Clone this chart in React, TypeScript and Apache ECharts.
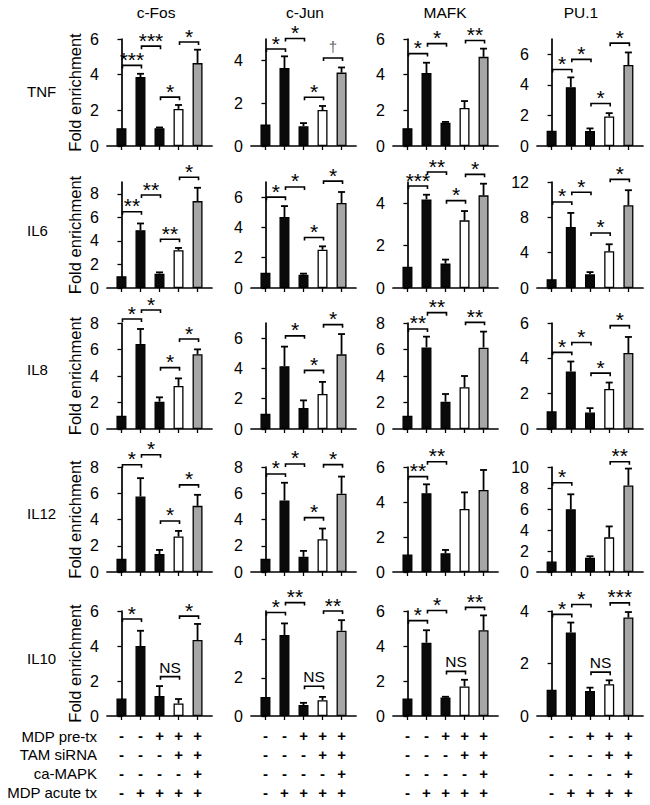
import React, { useEffect, useRef } from 'react';
import * as echarts from 'echarts';

const PROTEINS = ['c-Fos', 'c-Jun', 'MAFK', 'PU.1'];
const GENES = ['TNF', 'IL6', 'IL8', 'IL12', 'IL10'];
const BAR_COLORS = ['#0a0a0a', '#0a0a0a', '#0a0a0a', '#ffffff', '#a6a6a6'];

// y-axis maxima / tick steps, per gene row, per protein column
const Y_MAX = [[6, 5, 6, 7], [9, 7, 5, 12], [8, 7, 8, 6], [8, 8, 6, 10], [6, 5.5, 6, 4]];
const Y_STEP = [[2, 2, 2, 2], [2, 2, 2, 4], [2, 2, 2, 2], [2, 2, 2, 2], [2, 2, 2, 2]];

// fold enrichment means (5 conditions) per protein
const TNF_MEAN = [[1, 3.87, 1.0, 2.08, 4.65], [1, 3.64, 0.92, 1.68, 3.43], [1, 4.09, 1.31, 2.13, 5.0], [1, 3.85, 0.98, 1.93, 5.3]];
const TNF_SEM = [[0, 0.18, 0.04, 0.22, 0.75], [0, 0.55, 0.15, 0.19, 0.24], [0, 0.58, 0.04, 0.39, 0.46], [0, 0.64, 0.17, 0.22, 0.82]];
const IL6_MEAN = [[1, 4.91, 1.22, 3.21, 7.38], [1, 4.69, 0.88, 2.53, 5.61], [1, 4.18, 1.15, 3.19, 4.37], [1, 6.9, 1.55, 4.16, 9.37]];
const IL6_SEM = [[0, 0.57, 0.11, 0.19, 1.13], [0, 0.72, 0.07, 0.22, 0.73], [0, 0.22, 0.19, 0.44, 0.55], [0, 1.6, 0.25, 0.79, 1.7]];
const IL8_MEAN = [[1, 6.42, 2.06, 3.25, 5.64], [1, 4.15, 1.38, 2.31, 4.93], [1, 6.16, 2.06, 3.15, 6.14], [1, 3.26, 0.93, 2.26, 4.3]];
const IL8_SEM = [[0, 1.13, 0.33, 0.57, 0.37], [0, 1.29, 0.51, 0.8, 1.34], [0, 0.81, 0.58, 0.85, 1.21], [0, 0.56, 0.25, 0.37, 0.91]];
const IL12_MEAN = [[1, 5.75, 1.37, 2.7, 5.04], [1, 5.45, 1.16, 2.5, 5.96], [1, 4.5, 1.07, 3.6, 4.69], [1, 5.97, 1.36, 3.3, 8.24]];
const IL12_SEM = [[0, 1.4, 0.31, 0.43, 0.84], [0, 1.35, 0.45, 0.81, 1.31], [0, 0.51, 0.19, 0.95, 1.14], [0, 1.43, 0.14, 1.04, 1.61]];
const IL10_MEAN = [[1, 4.0, 1.14, 0.72, 4.34], [1, 4.24, 0.57, 0.83, 4.47], [1, 4.19, 1.05, 1.69, 4.9], [1, 3.18, 0.95, 1.21, 3.75]];
const IL10_SEM = [[0, 0.87, 0.57, 0.25, 0.92], [0, 0.61, 0.12, 0.17, 0.55], [0, 0.71, 0.05, 0.38, 0.85], [0, 0.38, 0.13, 0.15, 0.21]];

// significance brackets: [fromBar, toBar, height (fold enrichment), label]
const TNF_SIG = [
  [[0, 1, 4.52, '***'], [1, 2, 5.6, '***'], [2, 3, 2.74, '*'], [3, 4, 5.83, '*']],
  [[0, 1, 4.53, '*'], [1, 2, 5.02, '*'], [2, 3, 2.28, '*'], [3, 4, 4.11, '†']],
  [[0, 1, 5.18, '*'], [1, 2, 5.74, '*'], [3, 4, 5.92, '**']],
  [[0, 1, 5.0, '*'], [1, 2, 5.67, '*'], [2, 3, 2.78, '*'], [3, 4, 6.73, '*']],
];
const IL6_SIG = [
  [[0, 1, 6.47, '**'], [1, 2, 7.89, '**'], [2, 3, 4.14, '**'], [3, 4, 9.4, '*']],
  [[0, 1, 6.0, '*'], [1, 2, 6.67, '*'], [2, 3, 3.33, '*'], [3, 4, 7.06, '*']],
  [[0, 1, 4.81, '***'], [1, 2, 5.47, '**'], [2, 3, 4.12, '*'], [3, 4, 5.36, '*']],
  [[0, 1, 9.74, '*'], [1, 2, 10.84, '*'], [2, 3, 6.23, '*'], [3, 4, 12.3, '*']],
];
const IL8_SIG = [
  [[0, 1, 8.3, '*'], [1, 2, 8.98, '*'], [2, 3, 4.63, '*'], [3, 4, 6.79, '*']],
  [[1, 2, 6.15, '*'], [2, 3, 3.87, '*'], [3, 4, 6.89, '*']],
  [[0, 1, 7.55, '**'], [1, 2, 8.78, '**'], [3, 4, 8.05, '**']],
  [[0, 1, 4.34, '*'], [1, 2, 4.9, '*'], [2, 3, 3.16, '*'], [3, 4, 5.85, '*']],
];
const IL12_SIG = [
  [[0, 1, 8.17, '*'], [1, 2, 8.93, '*'], [2, 3, 3.89, '*'], [3, 4, 6.64, '*']],
  [[0, 1, 7.47, '*'], [1, 2, 8.23, '*'], [2, 3, 4.14, '*'], [3, 4, 8.18, '*']],
  [[0, 1, 5.45, '**'], [1, 2, 6.3, '**']],
  [[0, 1, 8.5, '*'], [3, 4, 10.5, '**']],
];
const IL10_SIG = [
  [[0, 1, 5.54, '*'], [2, 3, 2.25, 'NS'], [3, 4, 5.71, '*']],
  [[0, 1, 5.42, '*'], [1, 2, 5.94, '**'], [2, 3, 1.56, 'NS'], [3, 4, 5.5, '**']],
  [[0, 1, 5.45, '*'], [1, 2, 6.03, '*'], [2, 3, 2.55, 'NS'], [3, 4, 6.21, '**']],
  [[0, 1, 3.87, '*'], [1, 2, 4.25, '*'], [2, 3, 1.67, 'NS'], [3, 4, 4.31, '***']],
];

// treatment table
const COND_LABELS = ['MDP pre-tx', 'TAM siRNA', 'ca-MAPK', 'MDP acute tx'];
const COND_MDP_PRE = ['-', '-', '+', '+', '+'];
const COND_TAM = ['-', '-', '-', '+', '+'];
const COND_CAMAPK = ['-', '-', '-', '-', '+'];
const COND_MDP_ACUTE = ['-', '+', '+', '+', '+'];

const MEANS = [TNF_MEAN, IL6_MEAN, IL8_MEAN, IL12_MEAN, IL10_MEAN];
const SEMS = [TNF_SEM, IL6_SEM, IL8_SEM, IL12_SEM, IL10_SEM];
const SIGS = [TNF_SIG, IL6_SIG, IL8_SIG, IL12_SIG, IL10_SIG];
const CONDS = [COND_MDP_PRE, COND_TAM, COND_CAMAPK, COND_MDP_ACUTE];

const FONT = '"Liberation Sans", Arial, Helvetica, sans-serif';
const COL_LEFT = [107, 251, 393, 537];
const COL_W = [105, 105, 105, 106];
const ROW_TOP = [39, 182, 323, 467, 611];
const ROW_H = [107, 106, 106, 105, 105];
const TITLE_X = [156, 305, 445, 581];
const ROW_LABEL_Y = [91, 230, 369, 513, 658];
const COND_Y = [736, 754.5, 773.5, 792.5];

function buildOption() {
  const grid: any[] = [];
  const xAxis: any[] = [];
  const yAxis: any[] = [];
  const series: any[] = [];
  const lineStyle = { color: '#000', width: 1.7 };
  const positions = [0, 1, 2, 3, 4];

  for (let r = 0; r < GENES.length; r++) {
    for (let c = 0; c < PROTEINS.length; c++) {
      const k = r * 4 + c;
      const max = Y_MAX[r][c];
      const step = Y_STEP[r][c];
      const ticks: number[] = [];
      for (let v = 0; v <= max + 1e-9; v += step) ticks.push(v);
      grid.push({ left: COL_LEFT[c], top: ROW_TOP[r], width: COL_W[c], height: ROW_H[r], containLabel: false });
      xAxis.push({
        gridIndex: k, type: 'value', min: -0.76, max: 4.76,
        axisLine: { show: true, onZero: false, lineStyle },
        axisTick: { show: true, length: 4, customValues: positions, lineStyle: { color: '#000', width: 1.3 } },
        axisLabel: {
          show: r === GENES.length - 1, customValues: positions,
          formatter: (v: number) => CONDS.map((a) => a[Math.round(v)]).join('\n'),
          lineHeight: 19, margin: 10, fontSize: 15, fontWeight: 'bold', color: '#000', fontFamily: FONT,
        },
        splitLine: { show: false },
      });
      yAxis.push({
        gridIndex: k, type: 'value', min: 0, max,
        axisLine: { show: true, lineStyle },
        axisTick: { show: true, length: 4, customValues: ticks, lineStyle: { color: '#000', width: 1.3 } },
        axisLabel: { customValues: ticks, margin: 8, fontSize: 16, color: '#000', fontFamily: FONT },
        splitLine: { show: false },
        name: c === 0 ? 'Fold enrichment' : '',
        nameLocation: 'middle', nameGap: 24,
        nameTextStyle: { fontSize: 16.5, color: '#000', fontFamily: FONT },
      });

      const mean = MEANS[r][c];
      const sem = SEMS[r][c];
      const sig = SIGS[r][c];
      series.push({
        type: 'bar', xAxisIndex: k, yAxisIndex: k, barWidth: 10,
        data: mean.map((v, i) => ({
          value: [i, v],
          itemStyle: { color: BAR_COLORS[i], borderColor: '#000', borderWidth: 1.3 },
        })),
        z: 2,
      });
      series.push({
        type: 'custom', xAxisIndex: k, yAxisIndex: k, z: 3, clip: false,
        encode: { x: 0, y: 1 },
        data: mean.map((v, i) => [i, v, sem[i]]),
        renderItem: (params: any, api: any) => {
          const x = api.value(0), m = api.value(1), e = api.value(2);
          if (!e) return { type: 'group', children: [] };
          const p0 = api.coord([x, m]);
          const p1 = api.coord([x, m + e]);
          const st = { stroke: '#000', lineWidth: 1.8 };
          return {
            type: 'group', children: [
              { type: 'line', shape: { x1: p0[0], y1: p0[1], x2: p1[0], y2: p1[1] }, style: st },
              { type: 'line', shape: { x1: p1[0] - 3.5, y1: p1[1], x2: p1[0] + 3.5, y2: p1[1] }, style: st },
            ],
          };
        },
      });
      series.push({
        type: 'custom', xAxisIndex: k, yAxisIndex: k, z: 4, clip: false,
        encode: { x: [0, 1], y: 2 },
        data: sig.map((s) => [s[0], s[1], s[2]]),
        renderItem: (params: any, api: any) => {
          const label = sig[params.dataIndex][3] as string;
          const lv = api.value(2);
          const a = api.coord([api.value(0), lv]);
          const b = api.coord([api.value(1), lv]);
          const x1 = a[0] + 1, x2 = b[0] + 1, y = a[1];
          let fontSize = 21, dy = -6, fill = '#000';
          if (label === 'NS') { fontSize = 15.5; dy = -9.5; }
          if (label === '†') { fontSize = 15; dy = -12; fill = '#666'; }
          return {
            type: 'group', children: [
              { type: 'polyline', shape: { points: [[x1, y + 3], [x1, y], [x2, y], [x2, y + 3]] }, style: { stroke: '#000', lineWidth: 1.6, fill: 'none' } },
              { type: 'text', style: { text: label, x: (x1 + x2) / 2, y: y + dy, align: 'center', verticalAlign: 'middle', fontSize, fontFamily: FONT, fill } },
            ],
          };
        },
      });
    }
  }

  const graphic: any[] = [];
  PROTEINS.forEach((p, c) => graphic.push({
    type: 'text', x: TITLE_X[c], y: 12.5,
    style: { text: p, fontSize: 15.5, fontFamily: FONT, fill: '#000', align: 'center', verticalAlign: 'middle' },
  }));
  GENES.forEach((g, r) => graphic.push({
    type: 'text', x: 27, y: ROW_LABEL_Y[r],
    style: { text: g, fontSize: 15, fontFamily: FONT, fill: '#000', align: 'left', verticalAlign: 'middle' },
  }));
  COND_LABELS.forEach((t, i) => graphic.push({
    type: 'text', x: 97, y: COND_Y[i],
    style: { text: t, fontSize: 15, fontFamily: FONT, fill: '#000', align: 'right', verticalAlign: 'middle' },
  }));

  return { animation: false, backgroundColor: '#fff', grid, xAxis, yAxis, series, graphic };
}

export default function App() {
  const ref = useRef<HTMLDivElement>(null);
  useEffect(() => {
    document.body.style.margin = '0';
    const chart = echarts.init(ref.current!, undefined, { renderer: 'svg' });
    chart.setOption(buildOption() as any);
    return () => chart.dispose();
  }, []);
  return <div ref={ref} style={{ width: 650, height: 805 }} />;
}
